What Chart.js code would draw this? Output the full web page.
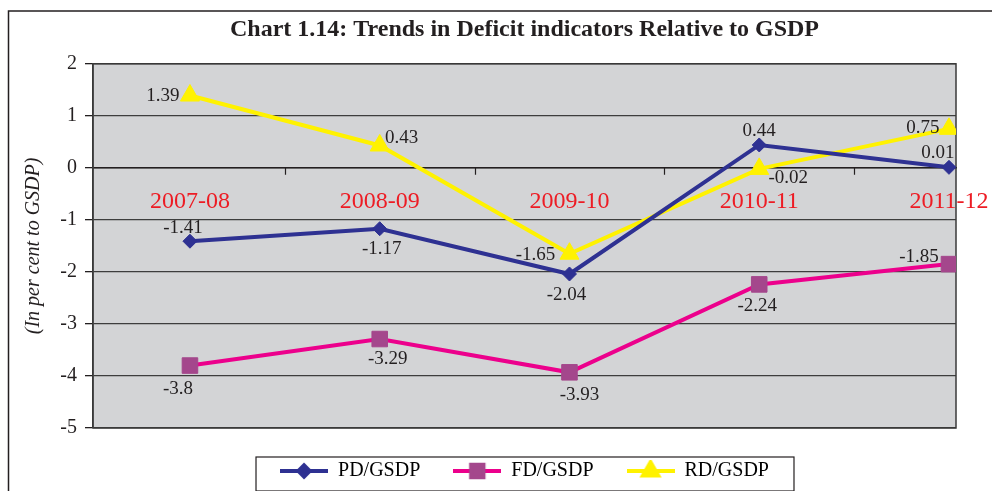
<!DOCTYPE html>
<html>
<head>
<meta charset="utf-8">
<script src="https://cdn.jsdelivr.net/npm/chart.js@4"></script>
<style>
    html, body { margin: 0; padding: 0; background: #fff; }
    #wrap { width: 992px; height: 491px; position: relative; }
</style>
</head>
<body>
<div id="wrap"><canvas id="chart"></canvas></div>
<script>
const YEARS = ["2007-08", "2008-09", "2009-10", "2010-11", "2011-12"];
const PD_GSDP = [-1.41, -1.17, -2.04, 0.44, 0.01];
const FD_GSDP = [-3.8, -3.29, -3.93, -2.24, -1.85];
const RD_GSDP = [1.39, 0.43, -1.65, -0.02, 0.75];
const Y_MIN = -5;
const Y_MAX = 2;

// offset of each value label from its point, in px
const LABEL_OFFSETS = [
    [[-7, -13], [2, 20], [-3, 21], [0, -14], [-11, -14]],
    [[-12, 23], [8, 20], [10, 23], [-2, 22], [-30, -7]],
    [[-27, 0], [22, -7], [-34, 1], [29, 9], [-26, -1]],
];

const SERIF = "'Liberation Serif', 'Times New Roman', serif";
const INK = "#231f20";

const toPoints = vals => vals.map((v, i) => ({ x: i, y: v }));

function legendIcon(lineColor, markerColor, style, radius) {
    const c = document.createElement("canvas");
    c.width = 48;
    c.height = 22;
    const g = c.getContext("2d");
    g.strokeStyle = lineColor;
    g.lineWidth = 4;
    g.beginPath();
    g.moveTo(0, 11);
    g.lineTo(48, 11);
    g.stroke();
    g.fillStyle = markerColor;
    g.strokeStyle = markerColor;
    Chart.helpers.drawPoint(g, { pointStyle: style, radius, borderWidth: 1 }, 24, 11);
    return c;
}

const frame = {
    id: "frame",
    beforeDraw(chart) {
        const { ctx, chartArea: a } = chart;
        ctx.save();
        ctx.fillStyle = "#d3d4d6";
        ctx.fillRect(a.left, a.top, a.right - a.left, a.bottom - a.top);
        ctx.strokeStyle = INK;
        ctx.lineWidth = 1.5;
        ctx.strokeRect(8.5, 11, 1200, 600);
        ctx.restore();
    },
    beforeDatasetsDraw(chart) {
        const { ctx, chartArea: a, scales } = chart;
        ctx.save();
        ctx.strokeStyle = "#3a3a3a";
        ctx.lineWidth = 1.5;
        ctx.strokeRect(a.left, a.top, a.right - a.left, a.bottom - a.top);
        // small category dividers hanging under the zero line
        const y0 = scales.y.getPixelForValue(0);
        ctx.strokeStyle = INK;
        ctx.lineWidth = 1.2;
        ctx.beginPath();
        for (let i = 0; i < YEARS.length - 1; i++) {
            const x = Math.round(scales.x.getPixelForValue(i + 0.5)) + 0.5;
            ctx.moveTo(x, y0);
            ctx.lineTo(x, y0 + 7);
        }
        ctx.stroke();
        ctx.restore();
    },
    afterDraw(chart) {
        const boxes = chart.legend.legendHitBoxes;
        if (!boxes || !boxes.length) return;
        const first = boxes[0], last = boxes[boxes.length - 1];
        const cy = first.top + first.height / 2;
        const ctx = chart.ctx;
        ctx.save();
        ctx.strokeStyle = INK;
        ctx.lineWidth = 1.2;
        ctx.strokeRect(first.left - 24, cy - 14, last.left + last.width + 49 - first.left, 34);
        ctx.restore();
    },
};

const valueLabels = {
    id: "valueLabels",
    afterDatasetsDraw(chart) {
        const ctx = chart.ctx;
        ctx.save();
        ctx.font = "19px " + SERIF;
        ctx.fillStyle = INK;
        ctx.textAlign = "center";
        ctx.textBaseline = "middle";
        chart.data.datasets.forEach((ds, i) => {
            chart.getDatasetMeta(i).data.forEach((pt, j) => {
                const [dx, dy] = LABEL_OFFSETS[i][j];
                ctx.fillText(String(ds.data[j].y), pt.x + dx, pt.y + dy);
            });
        });
        ctx.restore();
    },
};

const series = [
    { label: "PD/GSDP", values: PD_GSDP, line: "#2e3192", marker: "#2e3192", style: "rectRot", radius: 7 },
    { label: "FD/GSDP", values: FD_GSDP, line: "#ec008c", marker: "#a4478c", style: "rect", radius: 11 },
    { label: "RD/GSDP", values: RD_GSDP, line: "#fff200", marker: "#fff200", style: "triangle", radius: 11 },
];

const datasets = series.map(s => ({
    label: s.label,
    data: toPoints(s.values),
    borderColor: s.line,
    backgroundColor: s.marker,
    borderWidth: 4,
    tension: 0,
    pointStyle: s.style,
    pointRadius: s.radius,
    pointBackgroundColor: s.marker,
    pointBorderColor: s.marker,
    pointBorderWidth: 1,
}));

const legendIcons = series.map(s => legendIcon(s.line, s.marker, s.style, s.radius * 0.8));

new Chart(document.getElementById("chart"), {
    type: "line",
    data: { datasets },
    plugins: [frame, valueLabels],
    options: {
        responsive: true,
        maintainAspectRatio: false,
        animation: false,
        layout: { padding: { left: 8, right: 36, top: 0, bottom: 0 } },
        plugins: {
            tooltip: { enabled: false },
            title: {
                display: true,
                text: "Chart 1.14: Trends in Deficit indicators Relative to GSDP",
                fullSize: false,
                color: INK,
                font: { family: SERIF, size: 24, weight: "bold" },
                padding: { top: 15, bottom: 20 },
            },
            legend: {
                position: "bottom",
                fullSize: false,
                labels: {
                    usePointStyle: true,
                    pointStyleWidth: 48,
                    padding: 33,
                    color: INK,
                    font: { family: SERIF, size: 20 },
                    generateLabels: chart => chart.data.datasets.map((ds, i) => ({
                        text: ds.label,
                        pointStyle: legendIcons[i],
                        fillStyle: ds.backgroundColor,
                        strokeStyle: ds.borderColor,
                        lineWidth: 0,
                        hidden: false,
                        datasetIndex: i,
                    })),
                },
            },
        },
        scales: {
            x: {
                type: "linear",
                position: { y: 0 },
                min: -0.511,
                max: 4.037,
                afterBuildTicks: scale => { scale.ticks = YEARS.map((_, i) => ({ value: i })); },
                afterFit: scale => { scale.paddingLeft = 0; scale.paddingRight = 0; },
                grid: { display: false, drawTicks: false },
                border: { color: INK, width: 1.5 },
                ticks: {
                    autoSkip: false,
                    maxRotation: 0,
                    padding: 19,
                    color: "#ed1c24",
                    font: { family: SERIF, size: 24 },
                    callback: v => YEARS[v],
                },
            },
            y: {
                min: Y_MIN,
                max: Y_MAX,
                afterFit: scale => { scale.width = 85; },
                ticks: {
                    stepSize: 1,
                    padding: 8,
                    color: INK,
                    font: { family: SERIF, size: 20 },
                },
                grid: { color: "#3d3d3d", lineWidth: 1.3, tickLength: 8, tickColor: INK },
                border: { color: "#3a3a3a", width: 1.5 },
                title: {
                    display: true,
                    text: "(In per cent to GSDP)",
                    color: INK,
                    font: { family: SERIF, size: 20, style: "italic" },
                    padding: { top: 14, bottom: 0 },
                },
            },
        },
    },
});
</script>
</body>
</html>
